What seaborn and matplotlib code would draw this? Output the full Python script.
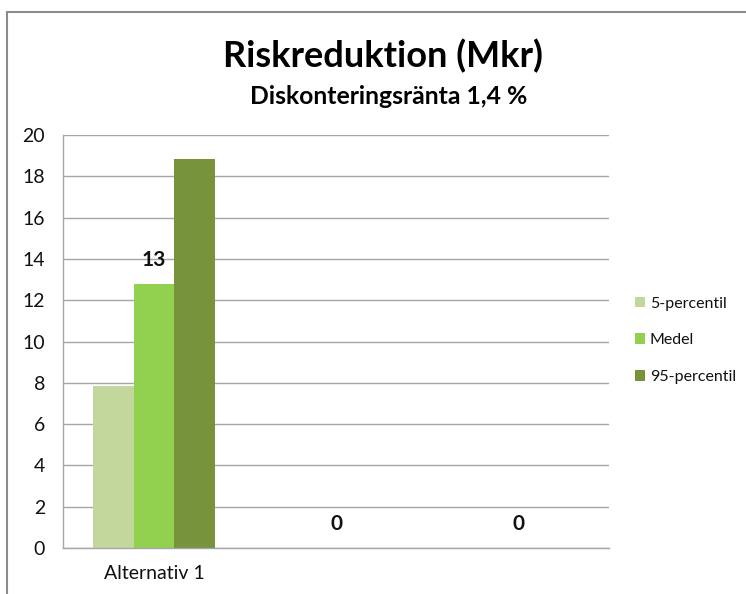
import matplotlib
matplotlib.use("Agg")
import matplotlib.pyplot as plt
from matplotlib.patches import Rectangle
import seaborn as sns
import pandas as pd

# Chart data
categories = ["Alternativ 1", "Alternativ 2", "Alternativ 3"]
tick_labels = ["Alternativ 1", "", ""]
series_names = ["5-percentil", "Medel", "95-percentil"]
p05 = [7.85, 0.0, 0.0]
medel = [12.8, 0.0, 0.0]
p95 = [18.85, 0.0, 0.0]
y_ticks = [0, 2, 4, 6, 8, 10, 12, 14, 16, 18, 20]

colors = ["#c3d69b", "#92d050", "#77933c"]

df = pd.DataFrame({
    "kategori": categories * 3,
    "serie": [series_names[0]] * 3 + [series_names[1]] * 3 + [series_names[2]] * 3,
    "värde": p05 + medel + p95,
})

sns.set_theme(style="white")
plt.rcParams["font.family"] = ["Lato", "DejaVu Sans"]

fig = plt.figure(figsize=(7.46, 5.94), dpi=100)
ax = fig.add_axes([0.0845, 0.0774, 0.7319, 0.6953])

sns.barplot(data=df, x="kategori", y="värde", hue="serie", order=categories,
            hue_order=series_names, palette=colors, width=0.667,
            saturation=1, linewidth=0, ax=ax, legend=True)

# value labels on the mean series
medel_container = ax.containers[1]
ax.bar_label(medel_container, labels=[f"{v:.0f}" for v in medel],
             padding=10, fontsize=15, fontweight="bold", color="#111111")

ax.set_ylim(0, 20)
ax.set_yticks(y_ticks)
ax.set_xticks(range(len(categories)))
ax.set_xticklabels(tick_labels)
ax.set_xlabel("")
ax.set_ylabel("")
ax.tick_params(axis="y", labelsize=14, pad=13, length=0, colors="#111111")
ax.tick_params(axis="x", labelsize=14, pad=12, length=0, colors="#111111")
ax.yaxis.grid(True, color="#a6a6a6", linewidth=1)
ax.set_axisbelow(True)
for side in ["top", "right"]:
    ax.spines[side].set_visible(False)
for side in ["left", "bottom"]:
    ax.spines[side].set_color("#a6a6a6")
    ax.spines[side].set_linewidth(1)

# legend on the right
handles, labels = ax.get_legend_handles_labels()
ax.legend(handles, labels, loc="center left", bbox_to_anchor=(0.842, 0.427),
          bbox_transform=fig.transFigure, frameon=False, fontsize=11.5,
          handlelength=0.65, handleheight=0.65, handletextpad=0.3,
          labelspacing=1.42, borderaxespad=0, labelcolor="#111111")

# titles
fig.text(0.513, 0.905, "Riskreduktion (Mkr)", ha="center", va="center",
         fontsize=26, fontweight="bold", color="#000000")
fig.text(0.521, 0.837, "Diskonteringsränta 1,4 %", ha="center", va="center",
         fontsize=17.8, fontweight="bold", color="#000000")

# chart frame
fig.patches.append(Rectangle((7 / 746, -0.1), 1.2, 1 - 12 / 594 + 0.1,
                             transform=fig.transFigure, fill=False,
                             edgecolor="#8c8c8c", linewidth=1.5))

fig.savefig("out.png", dpi=100)
